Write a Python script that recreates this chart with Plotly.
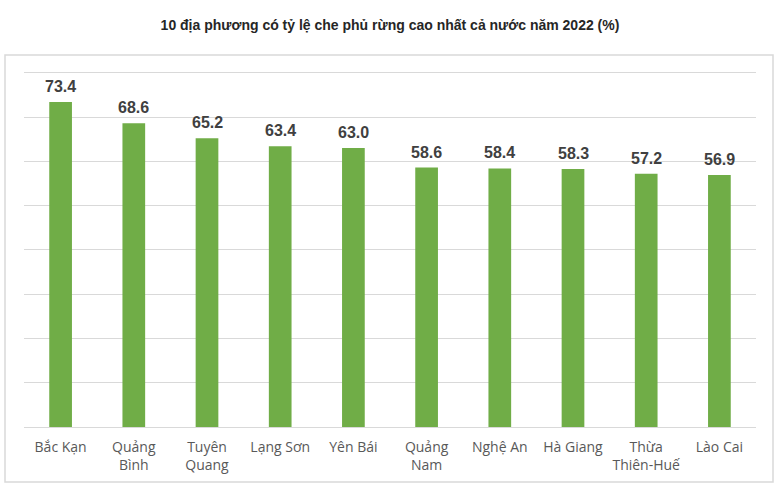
import plotly.graph_objects as go

categories = ["Bắc Kạn", "Quảng<br>Bình", "Tuyên<br>Quang", "Lạng Sơn", "Yên Bái",
              "Quảng<br>Nam", "Nghệ An", "Hà Giang", "Thừa<br>Thiên-Huế", "Lào Cai"]
values = [73.4, 68.6, 65.2, 63.4, 63.0, 58.6, 58.4, 58.3, 57.2, 56.9]
title_text = "10 địa phương có tỷ lệ che phủ rừng cao nhất cả nước năm 2022 (%)"
y_max = 80

W, H = 780, 489
Y_TOP = 82
L, R, T, B = 24, 24, 64, 62
pw, ph = W - L - R, H - T - B

def px_to_paper_x(px):
    return (px - L) / pw

def px_to_paper_y(py):
    return (H - B - py) / ph

fig = go.Figure()
fig.add_trace(go.Bar(
    x=categories, y=values,
    marker=dict(color="#70ad47", line=dict(width=0)),
    width=0.31,
    hoverinfo="x+y",
))

for c, v in zip(categories, values):
    fig.add_annotation(x=c, y=v, text=f"<b>{v:.1f}</b>", showarrow=False,
                       yanchor="bottom", yshift=5,
                       font=dict(family="Liberation Sans, Arial", size=16, color="#404040"))

fig.update_layout(
    width=W, height=H,
    margin=dict(l=L, r=R, t=T, b=B),
    paper_bgcolor="white", plot_bgcolor="white",
    showlegend=False,
    title=dict(text="<b>" + title_text + "</b>", x=0.5, xanchor="center",
               y=1 - 25 / H, yanchor="middle",
               font=dict(family="Liberation Sans, Arial", size=14, color="#262626")),
    xaxis=dict(showline=True, linecolor="#d9d9d9", linewidth=1, ticks="",
               tickfont=dict(family="Open Sans, Arial", size=14, color="#595959"),
               ticklabelstandoff=7,
               showgrid=False, fixedrange=True),
    yaxis=dict(range=[0, Y_TOP], tick0=0, dtick=10, showticklabels=False, showgrid=True,
               gridcolor="#d9d9d9", gridwidth=1, zeroline=False, showline=False,
               fixedrange=True),
    shapes=[dict(type="rect", xref="paper", yref="paper",
                 x0=px_to_paper_x(5), x1=px_to_paper_x(773),
                 y0=px_to_paper_y(482), y1=px_to_paper_y(55),
                 line=dict(color="#d9d9d9", width=1.5), fillcolor="rgba(0,0,0,0)",
                 layer="below")],
)

fig.write_html("out.html", config={"displayModeBar": False},
               post_script="document.body.style.margin='0';document.body.style.overflow='hidden';")
